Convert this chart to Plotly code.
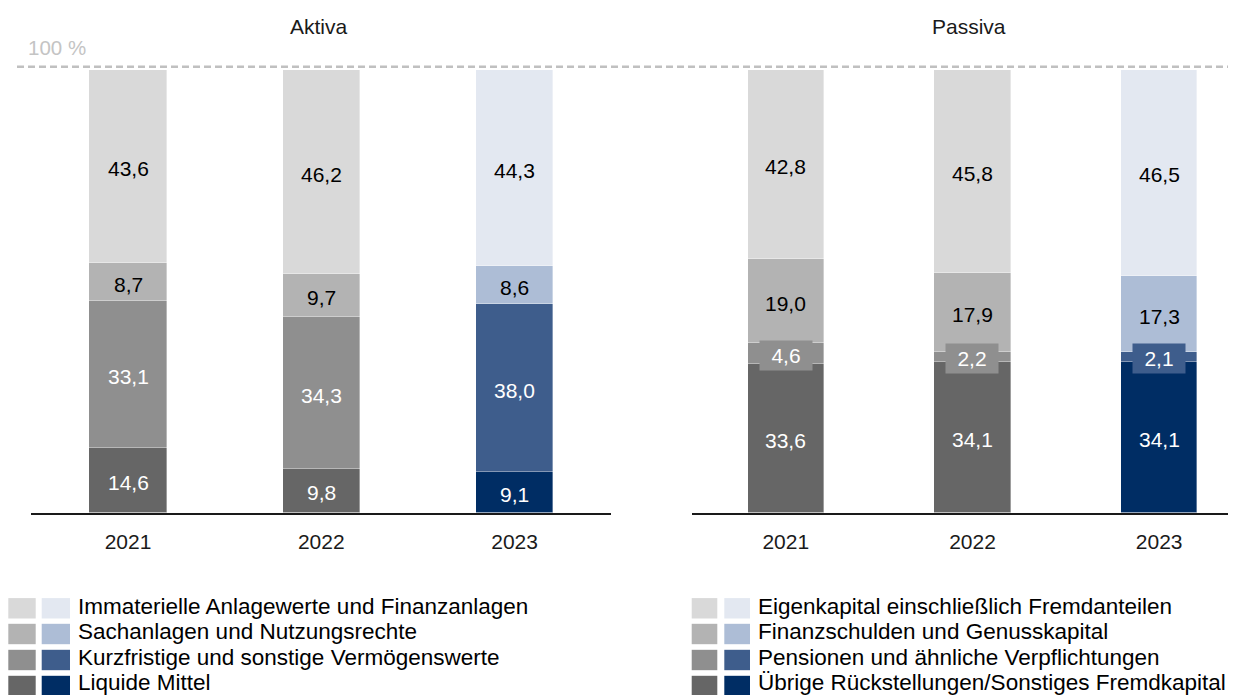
import plotly.graph_objects as go

# ---------------- data ----------------
years = ["2021", "2022", "2023"]

# segments listed bottom -> top
aktiva_labels = [
    "Liquide Mittel",
    "Kurzfristige und sonstige Vermögenswerte",
    "Sachanlagen und Nutzungsrechte",
    "Immaterielle Anlagewerte und Finanzanlagen",
]
aktiva_values = [
    [14.6, 9.8, 9.1],
    [33.1, 34.3, 38.0],
    [8.7, 9.7, 8.6],
    [43.6, 46.2, 44.3],
]

passiva_labels = [
    "Übrige Rückstellungen/Sonstiges Fremdkapital",
    "Pensionen und ähnliche Verpflichtungen",
    "Finanzschulden und Genusskapital",
    "Eigenkapital einschließlich Fremdanteilen",
]
passiva_values = [
    [33.6, 34.1, 34.1],
    [4.6, 2.2, 2.1],
    [19.0, 17.9, 17.3],
    [42.8, 45.8, 46.5],
]

panel_titles = ["Aktiva", "Passiva"]
top_label = "100 %"

grey_colors = ["#666666", "#8f8f8f", "#b3b3b3", "#d9d9d9"]
blue_colors = ["#002d64", "#3e5d8c", "#adbdd6", "#e3e8f1"]
text_colors = ["#ffffff", "#ffffff", "#000000", "#000000"]
blue_year = "2023"

FONT = "Liberation Sans, Arial, sans-serif"
# page body has an 8px margin: figure drawn at (8, 8)
OFF = 8
W, H = 1236 - OFF, 695 - OFF


def fmt(v):
    return f"{v:.1f}".replace(".", ",")


def px_x(p):
    return (p - OFF) / W


def px_y(p):
    return (H - (p - OFF)) / H


fig = go.Figure()
annotations = []
shapes = []

panels = [
    (aktiva_labels, aktiva_values, "x", "y", 0.401),
    (passiva_labels, passiva_values, "x2", "y2", 0.41),
]

for labels, values, xa, ya, bw in panels:
    for i, (lab, vals) in enumerate(zip(labels, values)):
        cols = [blue_colors[i] if y == blue_year else grey_colors[i] for y in years]
        fig.add_trace(go.Bar(
            x=years, y=vals, name=lab, width=bw,
            marker=dict(color=cols, line=dict(color="rgba(255,255,255,0.6)", width=0.6)),
            xaxis=xa, yaxis=ya, hoverinfo="skip",
        ))
    # value labels (x given as category index)
    for j, yr in enumerate(years):
        cum = 0.0
        for i in range(len(values)):
            v = values[i][j]
            mid = cum + v / 2
            cum += v
            col = blue_colors[i] if yr == blue_year else grey_colors[i]
            ann = dict(
                x=j, y=mid, xref=xa, yref=ya, text=fmt(v), showarrow=False,
                font=dict(family=FONT, size=21, color=text_colors[i]),
                xanchor="center", yanchor="middle", yshift=-2,
            )
            if v < 5:
                ann.update(bgcolor=col, width=52, height=29, borderpad=0,
                           font=dict(family=FONT, size=21, color="#ffffff"))
            annotations.append(ann)

# panel titles
for title, cx in zip(panel_titles, [319, 969]):
    annotations.append(dict(
        x=px_x(cx), y=px_y(26.5), xref="paper", yref="paper", text=title,
        showarrow=False, xanchor="center", yanchor="middle",
        font=dict(family=FONT, size=21, color="#1a1a1a"),
    ))

# 100 % reference
annotations.append(dict(
    x=px_x(26), y=px_y(47), xref="paper", yref="paper", text=top_label,
    showarrow=False, xanchor="left", yanchor="middle",
    font=dict(family=FONT, size=20.5, color="#c4c4c4"),
))
shapes.append(dict(
    type="line", xref="paper", yref="paper",
    x0=px_x(17), x1=1.0, y0=px_y(66.7), y1=px_y(66.7),
    line=dict(color="#c0c0c0", width=2.5, dash="7px,4px"),
))

# legends (two swatches per row: grey and blue)
legend_specs = [
    (aktiva_labels, (8.3, 35.7), (41.7, 70), 76),
    (passiva_labels, (691.7, 717.3), (724.3, 750), 756),
]
row_centers = [608.3, 634, 660, 686]
for labels, sw1, sw2, tx in legend_specs:
    for r, yc in enumerate(row_centers):
        i = len(labels) - 1 - r
        for (xa0, xa1), col in ((sw1, grey_colors[i]), (sw2, blue_colors[i])):
            shapes.append(dict(
                type="rect", xref="paper", yref="paper",
                x0=px_x(xa0), x1=px_x(xa1), y0=px_y(yc + 10.2), y1=px_y(yc - 10.2),
                fillcolor=col, line=dict(width=0),
            ))
        annotations.append(dict(
            x=px_x(tx), y=px_y(yc - 1.5 - r * 0.7), xref="paper", yref="paper", text=labels[i],
            showarrow=False, xanchor="left", yanchor="middle",
            font=dict(family=FONT, size=22.5, color="#000000"),
        ))

ydom = [px_y(512.5), px_y(70)]
xcommon = dict(
    type="category", showline=True, linecolor="#1a1a1a", linewidth=2,
    ticks="outside", ticklen=9, tickcolor="rgba(0,0,0,0)",
    tickfont=dict(family=FONT, size=21, color="#1a1a1a"),
    showgrid=False, zeroline=False, fixedrange=True,
)
fig.update_layout(
    width=W, height=H,
    margin=dict(l=0, r=0, t=0, b=0),
    paper_bgcolor="white", plot_bgcolor="white",
    barmode="stack", bargap=0, showlegend=False,
    font=dict(family=FONT, size=21, color="#000"),
    xaxis=dict(domain=[px_x(31), px_x(611)], range=[-0.5018, 2.4987], anchor="y", **xcommon),
    xaxis2=dict(domain=[px_x(692), 1.0], range=[-0.5024, 2.4114], anchor="y2", **xcommon),
    yaxis=dict(domain=ydom, range=[0, 100], visible=False, anchor="x"),
    yaxis2=dict(domain=ydom, range=[0, 100], visible=False, anchor="x2"),
    annotations=annotations,
    shapes=shapes,
)

fig.write_html("out.html")
